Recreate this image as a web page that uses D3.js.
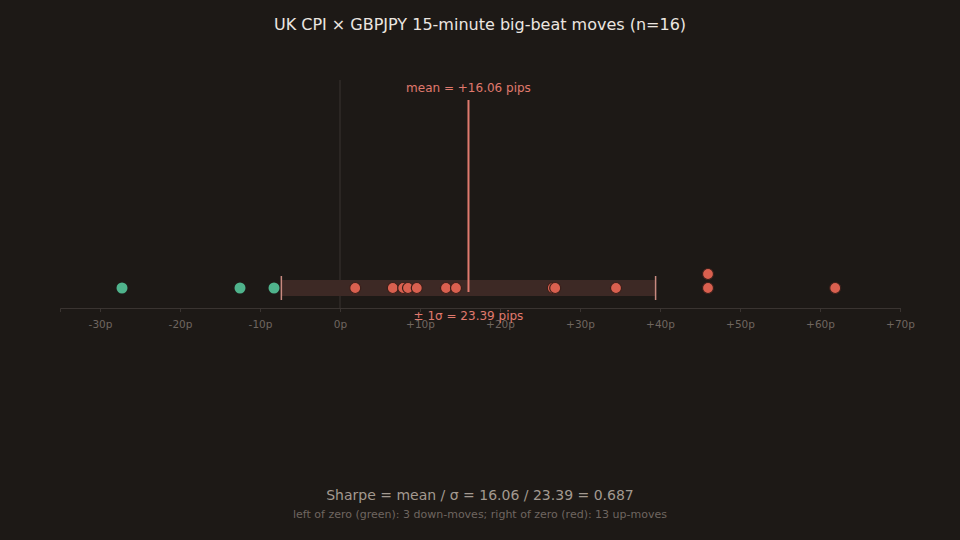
<!DOCTYPE html>
<html><head><meta charset="utf-8">
<script src="https://cdn.jsdelivr.net/npm/d3@7"></script>
<style>
body{margin:0;background:#1d1916;}
text{font-family:"DejaVu Sans",sans-serif;}
</style></head>
<body><div id="chart"></div>
<script>
// pip moves per release
const downMoves = [-27.25, -12.5, -8.25];
const upMoves = [1.9, 6.6, 7.9, 8.5, 9.6, 13.25, 14.5, 26.6, 26.9, 34.5, 46, 46, 61.9];
const meanPips = 16.06;
const sigmaPips = 23.39;
const tickValues = [-30, -20, -10, 0, 10, 20, 30, 40, 50, 60, 70];

const width = 960, height = 540;
const svg = d3.select('#chart').append('svg')
    .attr('width', width).attr('height', height);
svg.append('rect').attr('width', width).attr('height', height).attr('fill', '#1d1916');

const x = d3.scaleLinear().domain([-35, 70]).range([60, 900]);
const baseY = 288, axisY = 308;

// axis
const axisG = svg.append('g').attr('transform', `translate(0,${axisY})`)
    .call(d3.axisBottom(x).tickValues(tickValues).tickSize(4)
        .tickFormat(d => d > 0 ? `+${d}p` : `${d}p`));
axisG.select('.domain').attr('stroke', '#3a3431');
axisG.selectAll('.tick line').attr('stroke', '#3a3431');
axisG.selectAll('.tick text').attr('fill', '#6f6660').attr('font-size', 10.5)
    .attr('font-family', 'DejaVu Sans').attr('dy', '1.2em');

// zero line
svg.append('line').attr('x1', x(0)).attr('x2', x(0)).attr('y1', 80).attr('y2', axisY)
    .attr('stroke', '#3a3431');

// sigma band
const lo = meanPips - sigmaPips, hi = meanPips + sigmaPips;
svg.append('rect').attr('x', x(lo)).attr('y', baseY - 8).attr('width', x(hi) - x(lo)).attr('height', 16)
    .attr('fill', '#3d2925');
[lo, hi].forEach(v => svg.append('line').attr('x1', x(v)).attr('x2', x(v))
    .attr('y1', baseY - 12).attr('y2', baseY + 12).attr('stroke', '#c98a80').attr('stroke-width', 1.5));

// mean line
svg.append('line').attr('x1', x(meanPips)).attr('x2', x(meanPips)).attr('y1', 100).attr('y2', baseY + 4)
    .attr('stroke', '#e07a6e').attr('stroke-width', 2);
svg.append('text').attr('x', x(meanPips)).attr('y', 92).attr('text-anchor', 'middle')
    .attr('fill', '#e07a6e').attr('font-size', 12).text(`mean = +${meanPips.toFixed(2)} pips`);
svg.append('text').attr('x', x(meanPips)).attr('y', 320).attr('text-anchor', 'middle')
    .attr('fill', '#e07a6e').attr('font-size', 12).text(`± 1σ = ${sigmaPips.toFixed(2)} pips`);

// dots (stack duplicates)
const seen = {};
const pts = downMoves.map(v => ({v, up: false})).concat(upMoves.map(v => ({v, up: true})));
pts.forEach(p => { const k = p.v.toFixed(1); p.stack = seen[k] || 0; seen[k] = p.stack + 1; });
svg.selectAll('circle.dot').data(pts).enter().append('circle')
    .attr('class', 'dot')
    .attr('cx', d => x(d.v)).attr('cy', d => baseY - d.stack * 14)
    .attr('r', 5.5)
    .attr('fill', d => d.up ? '#d9604f' : '#4fb38c')
    .attr('stroke', d => d.up ? '#3a1f1a' : 'none').attr('stroke-width', 1.2);

// titles
svg.append('text').attr('x', width / 2).attr('y', 30).attr('text-anchor', 'middle')
    .attr('fill', '#ece6e0').attr('font-size', 16).text('UK CPI × GBPJPY 15-minute big-beat moves (n=16)');
svg.append('text').attr('x', width / 2).attr('y', 500).attr('text-anchor', 'middle')
    .attr('fill', '#a39990').attr('font-size', 14)
    .text(`Sharpe = mean / σ = ${meanPips.toFixed(2)} / ${sigmaPips.toFixed(2)} = ${(meanPips / sigmaPips).toFixed(3)}`);
svg.append('text').attr('x', width / 2).attr('y', 518).attr('text-anchor', 'middle')
    .attr('fill', '#6f6660').attr('font-size', 11)
    .text(`left of zero (green): ${downMoves.length} down-moves; right of zero (red): ${upMoves.length} up-moves`);
</script></body></html>
